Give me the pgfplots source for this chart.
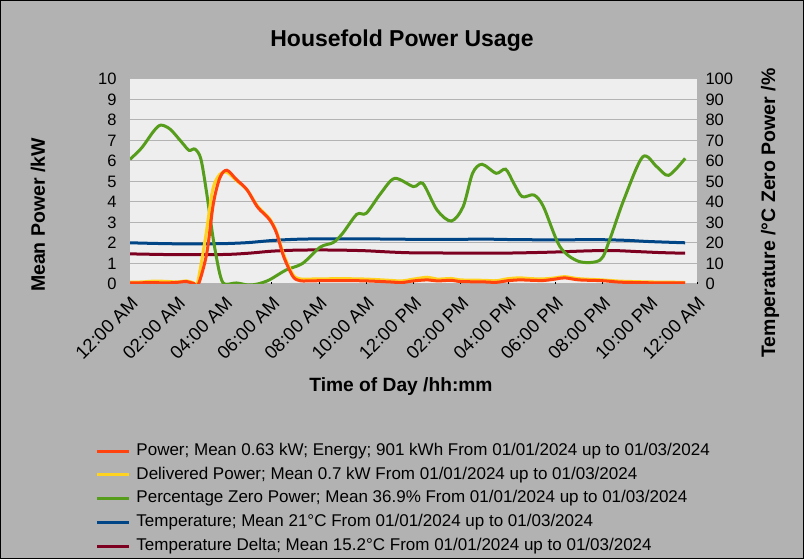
\documentclass[border=0pt]{standalone}
\usepackage{pgfplots}
\pgfplotsset{compat=1.18}
\usepackage{pgfplotstable}
\usepackage{fontspec}
\setmainfont{Liberation Sans}

\definecolor{chartbg}{HTML}{B2B2B2}
\definecolor{wall}{HTML}{EEEEEE}
\definecolor{gridc}{HTML}{B3B3B3}
\definecolor{cPower}{HTML}{FF420E}
\definecolor{cDeliv}{HTML}{FFD320}
\definecolor{cZero}{HTML}{579D1C}
\definecolor{cTemp}{HTML}{004586}
\definecolor{cDelta}{HTML}{7E0021}

% hours, kW
\pgfplotstableread{
h v
0.0 0.06
0.5 0.06
1.0 0.07
1.5 0.05
2.0 0.08
2.4 0.12
2.7 0.02
2.9 0.0
3.25 1.5
3.53 3.93
3.81 5.2
4.1 5.55
4.5 5.1
4.95 4.6
5.4 3.75
5.9 3.15
6.2 2.5
6.5 1.35
6.9 0.36
7.2 0.16
7.5 0.15
8.0 0.16
9.0 0.17
10.0 0.15
11.0 0.1
11.5 0.07
12.0 0.15
12.6 0.2
13.0 0.15
13.6 0.18
14.0 0.12
15.0 0.1
15.5 0.08
16.0 0.16
16.5 0.2
17.0 0.18
17.5 0.17
18.0 0.24
18.4 0.3
19.0 0.2
20.0 0.16
20.6 0.1
21.0 0.08
22.0 0.06
23.5 0.05
}\power

\pgfplotstableread{
h v
0.0 0.09
0.5 0.1
1.0 0.14
1.5 0.13
2.0 0.1
2.4 0.15
2.7 0.05
2.85 0.0
3.2 2.3
3.5 4.6
3.8 5.35
4.1 5.45
4.5 5.05
4.95 4.6
5.4 3.8
5.9 3.2
6.2 2.55
6.5 1.45
6.9 0.45
7.2 0.25
7.5 0.24
8.0 0.25
9.0 0.26
10.0 0.24
11.0 0.18
11.5 0.15
12.0 0.24
12.6 0.33
13.0 0.24
13.6 0.27
14.0 0.2
15.0 0.18
15.5 0.16
16.0 0.26
16.5 0.3
17.0 0.26
17.5 0.25
18.0 0.3
18.4 0.36
19.0 0.26
20.0 0.2
20.6 0.15
21.0 0.13
22.0 0.1
23.5 0.08
}\delivered

% hours, percent
\pgfplotstableread{
h v
0.0 60.8
0.5 66.5
1.0 74.5
1.3 77.5
1.7 75.5
2.2 69
2.5 65.2
2.75 65.8
3.0 61
3.25 44
3.53 21.5
3.8 5
4.0 0
4.5 0.5
5.0 -0.5
5.4 0
5.9 2
6.6 6.8
7.3 10
8.05 18
8.6 20.2
9.0 24.7
9.6 34
10.0 34.5
10.6 44
11.2 51.5
12.0 47.5
12.4 49
13.0 36
13.6 30.7
14.1 37.7
14.5 54
14.9 58.4
15.5 54
15.9 56
16.25 49
16.6 42.6
17.1 43.4
17.5 37.7
18.2 18.2
19.0 11
19.9 11.7
20.3 21.5
20.9 41
21.7 62
22.3 57.2
22.8 53
23.5 61.3
}\zero

% hours, degC
\pgfplotstableread{
h v
0 20.1
1 19.8
2 19.6
3 19.6
4 19.7
5 20.2
6 21.2
7 21.8
8 22.0
10 22.0
12 21.8
14 21.8
15 21.9
16 21.7
18 21.5
19 21.6
20 21.6
21 21.3
22 20.7
23.5 20.1
}\temp

\pgfplotstableread{
h v
0 14.7
2 14.3
4 14.4
5 15.0
6 16.0
7 16.5
8 16.6
9 16.5
10 16.2
11 15.6
12 15.2
14 15.1
16 15.1
17 15.3
18 15.6
19.5 16.2
20.5 16.3
21.5 15.8
22.5 15.3
23.5 15.0
}\delta

\begin{document}
\begin{tikzpicture}
\fill[chartbg] (0,0) rectangle (804pt,559pt);
\draw[black,line width=1pt] (0.5pt,0.5pt) rectangle (803.5pt,558.5pt);

\pgfplotsset{
  base/.style={
    scale only axis,
    width=567pt, height=205pt,
    at={(130pt,275pt)}, anchor=south west,
    xmin=0, xmax=24,
    axis line style={draw=none},
    yticklabel style={font=\fontsize{16.5}{18}\selectfont},
    /pgf/number format/assume math mode=true,
  },
}

% right axis: percent and temperature
\begin{axis}[base,
  ymin=0, ymax=100,
  axis y line*=right, axis x line*=bottom,
  axis background/.style={fill=wall},
  ytick={0,10,...,100},
  ymajorgrids, grid style={gridc, line width=1pt},
  y tick style={draw=none},
  xtick={0,2,...,24},
  xticklabels={12:00 AM,02:00 AM,04:00 AM,06:00 AM,08:00 AM,10:00 AM,12:00 PM,02:00 PM,04:00 PM,06:00 PM,08:00 PM,10:00 PM,12:00 AM},
  xticklabel style={font=\fontsize{18.5}{20}\selectfont, rotate=45, anchor=north east, inner sep=0pt},
  xticklabel shift=11pt,
  x tick style={black, line width=1pt},
  major tick length=2pt,
  yticklabel style={xshift=5pt},
]
\addplot[cTemp, line width=3pt, smooth, forget plot] table {\temp};
\addplot[cDelta, line width=3pt, smooth, forget plot] table {\delta};
\addplot[cZero, line width=3pt, smooth, forget plot] table {\zero};
\end{axis}

% left axis: power
\begin{axis}[base,
  ymin=0, ymax=10,
  axis y line*=left, axis x line=none,
  ytick={0,1,...,10},
  y tick style={draw=none},
  yticklabel style={xshift=-10pt},
  legend cell align=left,
  legend image code/.code={\draw[#1, line width=3pt] (0pt,0pt) -- (32pt,0pt); \path (38pt,0pt);},
  legend style={at={(rel axis cs:-0.066,-0.76)}, anchor=north west,
    draw=none, fill=none, font=\fontsize{17}{19}\selectfont,
    nodes={inner sep=1pt, text height=12.5pt, text depth=4pt},
    row sep=5.2pt},
]
\addplot[cDeliv, line width=3pt, smooth, forget plot] table {\delivered};
\addplot[cPower, line width=3pt, smooth, forget plot] table {\power};
\addlegendimage{cPower}
\addlegendentry{Power; Mean 0.63 kW; Energy; 901 kWh From 01/01/2024 up to 01/03/2024}
\addlegendimage{cDeliv}
\addlegendentry{Delivered Power; Mean 0.7 kW From 01/01/2024 up to 01/03/2024}
\addlegendimage{cZero}
\addlegendentry{Percentage Zero Power; Mean 36.9\% From 01/01/2024 up to 01/03/2024}
\addlegendimage{cTemp}
\addlegendentry{Temperature; Mean 21°C From 01/01/2024 up to 01/03/2024}
\addlegendimage{cDelta}
\addlegendentry{Temperature Delta; Mean 15.2°C From 01/01/2024 up to 01/03/2024}
\end{axis}

\node[font=\fontsize{23}{26}\selectfont\bfseries] at (402pt,518pt) {Housefold Power Usage};
\node[font=\fontsize{19.2}{22}\selectfont\bfseries] at (401pt,172pt) {Time of Day /hh:mm};
\node[font=\fontsize{19.5}{22}\selectfont\bfseries, rotate=90] at (38pt,344pt) {Mean Power /kW};
\node[font=\fontsize{19.5}{22}\selectfont\bfseries, rotate=90] at (770pt,346pt) {Temperature /°C Zero Power /\%};

\pgfresetboundingbox
\useasboundingbox (0,0) rectangle (804pt,559pt);
\end{tikzpicture}
\end{document}
